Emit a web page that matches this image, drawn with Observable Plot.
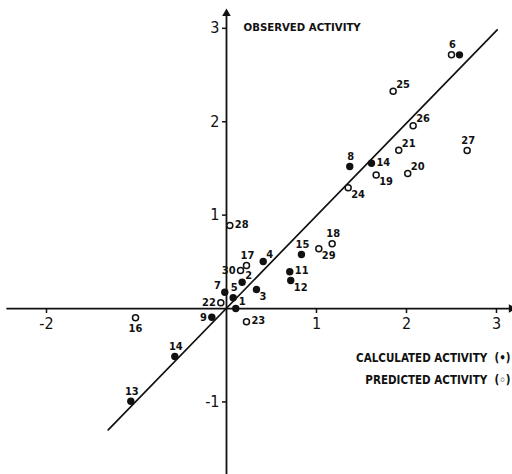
<!DOCTYPE html>
<html>
<head>
<meta charset="utf-8">
<script src="https://cdn.jsdelivr.net/npm/d3@7"></script>
<script src="https://cdn.jsdelivr.net/npm/@observablehq/plot@0.6"></script>
<style>
  html, body { margin: 0; padding: 0; background: #fff; }
  #chart svg { display: block; font-family: "DejaVu Sans Condensed", "Liberation Sans Narrow", "Roboto Condensed", Roboto, sans-serif; }
</style>
</head>
<body>
<div id="chart"></div>
<script>
// ---- data ----
// calculated activity (filled dots)
const calcLabels = ["1", "2", "3", "4", "5", "6", "7", "8", "9", "11", "12", "13", "14", "14", "15"];
const calcX      = [0.103, 0.174, 0.333, 0.408, 0.074, 2.589, -0.019, 1.37, -0.163, 0.703, 0.714, -1.063, -0.574, 1.611, 0.833];
const calcY      = [0.0, 0.282, 0.203, 0.503, 0.115, 2.716, 0.175, 1.52, -0.093, 0.393, 0.30, -0.993, -0.514, 1.556, 0.578];
const calcPlace  = ["ne", "ne", "se", "ne", "n", "", "nw", "n", "w", "e", "se", "n", "n", "e", "n"];

// predicted activity (open circles)
const predLabels = ["6", "16", "17", "18", "19", "20", "21", "22", "23", "24", "25", "26", "27", "28", "29", "30"];
const predX      = [2.50, -1.011, 0.222, 1.174, 1.663, 2.014, 1.914, -0.063, 0.222, 1.352, 1.852, 2.074, 2.674, 0.037, 1.026, 0.156];
const predY      = [2.716, -0.10, 0.46, 0.693, 1.431, 1.445, 1.695, 0.061, -0.142, 1.292, 2.327, 1.956, 1.692, 0.889, 0.639, 0.407];
const predPlace  = ["n", "s", "n", "n", "se", "ne", "ne", "w", "e", "se", "ne", "ne", "n", "e", "se", "w"];

// regression line end points
const fitX = [-1.314, 3.008];
const fitY = [-1.299, 2.984];

// axis ticks
const xTicks = [-2, 1, 2, 3];
const xTickLabels = ["-2", "1", "2", "3"];
const yTicks = [3, 2, 1, -1];
const yTickLabels = ["3", "2", "1", "-1"];

const yAxisTitle = "OBSERVED ACTIVITY";
const legendLabels = ["CALCULATED ACTIVITY  (\u2022)", "PREDICTED ACTIVITY  (\u25E6)"];

// ---- build ----
const calc = calcLabels.map((l, i) => ({label: l, x: calcX[i], y: calcY[i], place: calcPlace[i]}));
const pred = predLabels.map((l, i) => ({label: l, x: predX[i], y: predY[i], place: predPlace[i]}));
const fit = fitX.map((x, i) => ({x, y: fitY[i]}));
const allPts = calc.concat(pred);

const xDomain = [-2.511, 3.178];
const yDomain = [-1.777, 3.298];
const xAxisExtent = [-2.44, 3.165];
const yAxisExtent = [-1.777, 3.16];

const placements = {
  n:  {dx: 1,  dy: -10, textAnchor: "middle"},
  s:  {dx: 0,  dy: 11,  textAnchor: "middle"},
  ne: {dx: 3,  dy: -7,  textAnchor: "start"},
  e:  {dx: 5,  dy: -1,  textAnchor: "start"},
  se: {dx: 3,  dy: 7,   textAnchor: "start"},
  w:  {dx: -5, dy: 0,   textAnchor: "end"},
  nw: {dx: -4, dy: -7,  textAnchor: "end"}
};

const labelMarks = Object.entries(placements).map(([key, p]) =>
  Plot.text(allPts.filter(d => d.place === key), {
    x: "x", y: "y", text: "label",
    dx: p.dx, dy: p.dy, textAnchor: p.textAnchor,
    fontSize: 11, fontWeight: "bold", fill: "#111"
  })
);

const chart = Plot.plot({
  width: 512,
  height: 474,
  margin: 0,
  style: {background: "#fff", color: "#111"},
  x: {domain: xDomain, axis: null},
  y: {domain: yDomain, axis: null},
  marks: [
    // axes
    Plot.ruleY([0], {x1: xAxisExtent[0], x2: xAxisExtent[1], strokeWidth: 1.8, stroke: "#111"}),
    Plot.ruleX([0], {y1: yAxisExtent[0], y2: yAxisExtent[1], strokeWidth: 1.8, stroke: "#111"}),
    Plot.dot([0], {x: () => xAxisExtent[1], y: 0, symbol: "triangle", r: 3.2, fill: "#111", rotate: 90}),
    Plot.dot([0], {x: 0, y: () => yAxisExtent[1], symbol: "triangle", r: 3.2, fill: "#111"}),
    Plot.ruleX(xTicks, {x: d => d, y1: 0, y2: -5 / 93.4, strokeWidth: 1.5, stroke: "#111"}),
    Plot.ruleY(yTicks, {y: d => d, x1: 0, x2: -4 / 90, strokeWidth: 1.5, stroke: "#111"}),
    Plot.text(xTicks, {x: d => d, y: 0, text: (d, i) => xTickLabels[i], dy: 15, fontSize: 16, fill: "#111"}),
    Plot.text(yTicks, {x: 0, y: d => d, text: (d, i) => yTickLabels[i], dx: -7, textAnchor: "end", fontSize: 16, fill: "#111"}),
    // fit line
    Plot.line(fit, {x: "x", y: "y", stroke: "#111", strokeWidth: 1.7}),
    // points
    Plot.dot(pred, {x: "x", y: "y", r: 3, stroke: "#111", strokeWidth: 1.5, fill: "#fff"}),
    Plot.dot(calc, {x: "x", y: "y", r: 3.7, fill: "#111", stroke: "none"}),
    ...labelMarks,
    // titles / legend
    Plot.text([yAxisTitle], {text: d => d, frameAnchor: "top-left", dx: 243, dy: 27, lineAnchor: "middle", textAnchor: "start", fontSize: 11.3, fontWeight: "bold", fill: "#111"}),
    Plot.text([legendLabels[0]], {text: d => d, frameAnchor: "top-right", dx: -2, dy: 358, lineAnchor: "middle", textAnchor: "end", fontSize: 11.5, fontWeight: "bold", fill: "#111"}),
    Plot.text([legendLabels[1]], {text: d => d, frameAnchor: "top-right", dx: -2, dy: 380, lineAnchor: "middle", textAnchor: "end", fontSize: 11.5, fontWeight: "bold", fill: "#111"})
  ]
});
document.getElementById("chart").appendChild(chart);
</script>
</body>
</html>
